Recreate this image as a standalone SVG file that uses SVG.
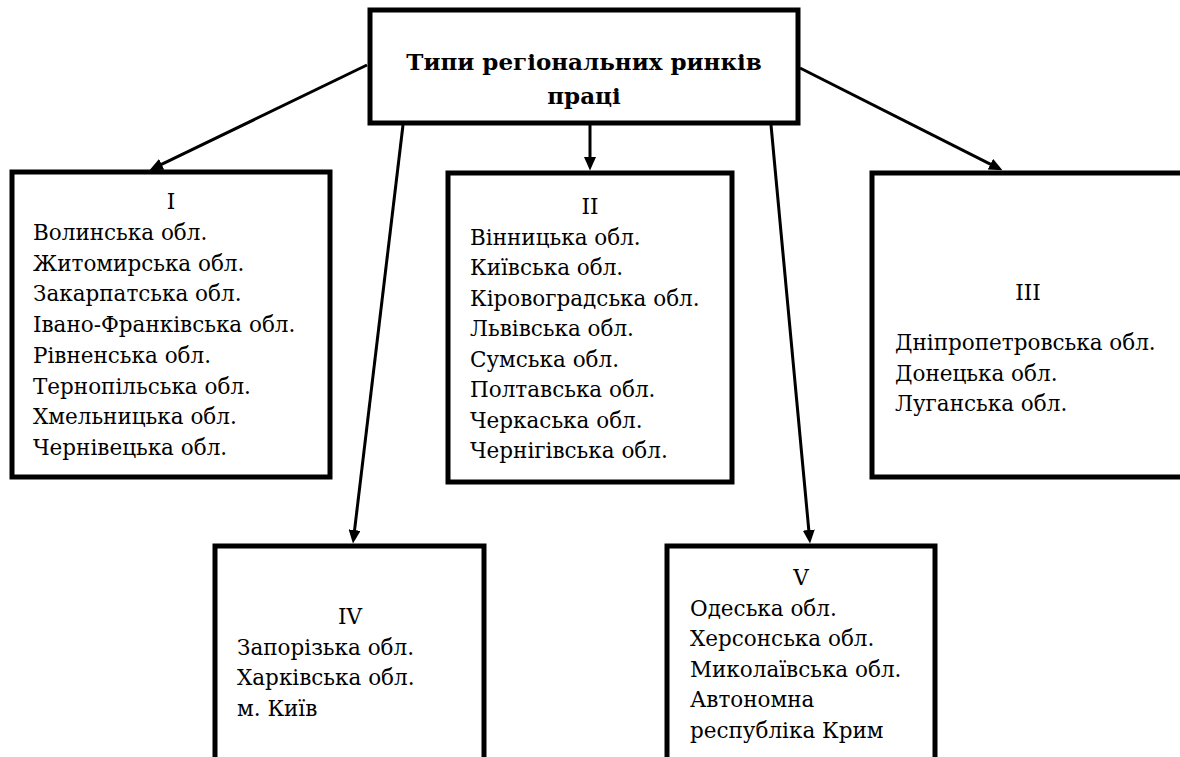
<svg xmlns="http://www.w3.org/2000/svg" width="1180" height="757" viewBox="0 0 1180 757">
<style>
.box{fill:#fff;stroke:#000;stroke-width:5}
.t{font-family:"DejaVu Serif","Liberation Serif",serif;font-size:21.5px;fill:#000}
.c{text-anchor:middle}
.title{font-family:"DejaVu Serif","Liberation Serif",serif;font-size:23px;font-weight:bold;fill:#000;text-anchor:middle}
.conn{stroke:#000;stroke-width:3;fill:none;marker-end:url(#ah)}
</style>
<defs>
<marker id="ah" markerUnits="userSpaceOnUse" markerWidth="14" markerHeight="12" refX="6.5" refY="6" orient="auto">
<path d="M0,0 L13.5,6 L0,12 z" fill="#000"/>
</marker>
</defs>
<rect width="1180" height="757" fill="#fff"/>
<g id="connectors">
<line class="conn" x1="367" y1="65" x2="155.8" y2="167.2"/>
<line class="conn" x1="800" y1="68" x2="996.2" y2="167.1"/>
<line class="conn" x1="590" y1="125" x2="590" y2="163.5"/>
<line class="conn" x1="403" y1="125" x2="353.8" y2="536.5"/>
<line class="conn" x1="771" y1="125" x2="809.4" y2="536.5"/>
</g>
<g id="title">
<rect class="box" x="370" y="10" width="428" height="113"/>
<text class="title" x="584" y="70">Типи регіональних ринків</text>
<text class="title" x="584" y="104">праці</text>
</g>
<g id="type1">
<rect class="box" x="12" y="172" width="318" height="305"/>
<text class="t c" x="171" y="209">I</text>
<text class="t" x="33" y="240">Волинська обл.</text>
<text class="t" x="33" y="270.7">Житомирська обл.</text>
<text class="t" x="33" y="301.4">Закарпатська обл.</text>
<text class="t" x="33" y="332.1">Івано-Франківська обл.</text>
<text class="t" x="33" y="362.8">Рівненська обл.</text>
<text class="t" x="33" y="393.5">Тернопільська обл.</text>
<text class="t" x="33" y="424.2">Хмельницька обл.</text>
<text class="t" x="33" y="454.9">Чернівецька обл.</text>
</g>
<g id="type2">
<rect class="box" x="448" y="173" width="284" height="309"/>
<text class="t c" x="590" y="214">II</text>
<text class="t" x="470" y="244.5">Вінницька обл.</text>
<text class="t" x="470" y="275">Київська обл.</text>
<text class="t" x="470" y="305.5">Кіровоградська обл.</text>
<text class="t" x="470" y="336">Львівська обл.</text>
<text class="t" x="470" y="366.5">Сумська обл.</text>
<text class="t" x="470" y="397">Полтавська обл.</text>
<text class="t" x="470" y="427.5">Черкаська обл.</text>
<text class="t" x="470" y="458">Чернігівська обл.</text>
</g>
<g id="type3">
<rect class="box" x="872" y="173" width="312" height="304"/>
<text class="t c" x="1028" y="300">III</text>
<text class="t" x="895" y="350">Дніпропетровська обл.</text>
<text class="t" x="895" y="380.7">Донецька обл.</text>
<text class="t" x="895" y="411.4">Луганська обл.</text>
</g>
<g id="type4">
<rect class="box" x="215" y="546" width="269" height="260"/>
<text class="t c" x="350" y="624">IV</text>
<text class="t" x="237" y="654.6">Запорізька обл.</text>
<text class="t" x="237" y="685.2">Харківська обл.</text>
<text class="t" x="237" y="715.8">м. Київ</text>
</g>
<g id="type5">
<rect class="box" x="667" y="546" width="268" height="260"/>
<text class="t c" x="801" y="585">V</text>
<text class="t" x="690" y="615.5">Одеська обл.</text>
<text class="t" x="690" y="646">Херсонська обл.</text>
<text class="t" x="690" y="676.5">Миколаївська обл.</text>
<text class="t" x="690" y="707">Автономна</text>
<text class="t" x="690" y="737.5">республіка Крим</text>
</g>
</svg>
